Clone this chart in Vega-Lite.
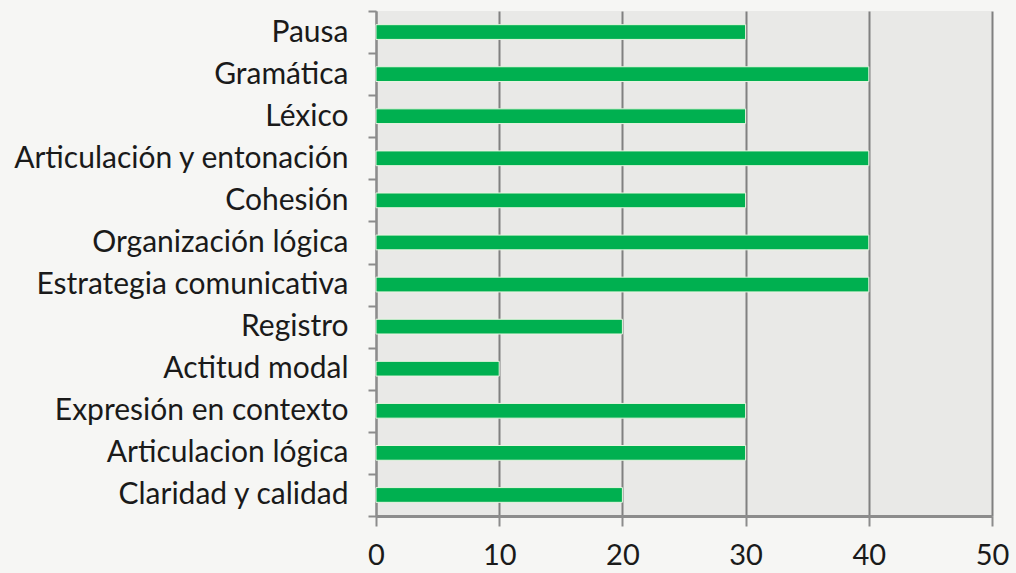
{
  "$schema": "https://vega.github.io/schema/vega-lite/v6.json",
  "width": 616,
  "height": 505,
  "autosize": {"type": "none"},
  "padding": {"left": 376, "top": 11, "right": 24, "bottom": 57},
  "background": "#f6f6f4",
  "view": {"fill": "#e9e9e7", "stroke": null},
  "data": {"values": [
    {"categoria": "Pausa", "valor": 30},
    {"categoria": "Gramática", "valor": 40},
    {"categoria": "Léxico", "valor": 30},
    {"categoria": "Articulación y entonación", "valor": 40},
    {"categoria": "Cohesión", "valor": 30},
    {"categoria": "Organización lógica", "valor": 40},
    {"categoria": "Estrategia comunicativa", "valor": 40},
    {"categoria": "Registro", "valor": 20},
    {"categoria": "Actitud modal", "valor": 10},
    {"categoria": "Expresión en contexto", "valor": 30},
    {"categoria": "Articulacion lógica", "valor": 30},
    {"categoria": "Claridad y calidad\u2002", "valor": 20}
  ]},
  "mark": {"type": "bar", "color": "#00b050", "stroke": "#e8f5e0", "strokeWidth": 1, "height": {"band": 0.35}},
  "encoding": {
    "y": {
      "field": "categoria", "type": "nominal", "sort": null, "title": null,
      "scale": {"paddingInner": 0, "paddingOuter": 0},
      "axis": {
        "tickBand": "extent", "grid": false,
        "domainColor": "#8c8c8c", "domainWidth": 2,
        "tickColor": "#8c8c8c", "tickWidth": 2, "tickSize": 8,
        "labelFont": "Lato", "labelFontSize": 30, "labelColor": "#1a1a1a",
        "labelPadding": 20, "labelLimit": 0
      }
    },
    "x": {
      "field": "valor", "type": "quantitative", "title": null,
      "scale": {"domain": [0, 50], "nice": false},
      "axis": {
        "values": [0, 10, 20, 30, 40, 50],
        "grid": true, "gridColor": "#808080", "gridWidth": 2,
        "domainColor": "#8c8c8c", "domainWidth": 3,
        "tickColor": "#8c8c8c", "tickWidth": 2, "tickSize": 10,
        "labelFont": "Lato", "labelFontSize": 29, "labelColor": "#1a1a1a",
        "labelPadding": 15, "labelFlush": false
      }
    }
  }
}
